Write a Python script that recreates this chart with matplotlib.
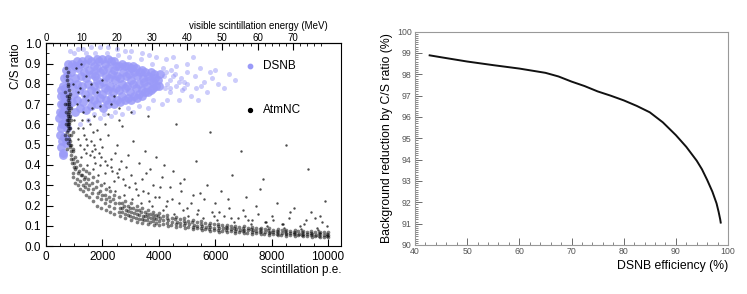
import numpy as np
import matplotlib
matplotlib.use("Agg")
import matplotlib.pyplot as plt
from matplotlib.ticker import MultipleLocator, FixedLocator, FormatStrFormatter

plt.rcParams['font.family'] = ['Liberation Sans', 'DejaVu Sans']

# --- left panel: C/S ratio vs scintillation p.e. ---
dsnb_core = [
    (470, 0.63), (495, 0.55), (515, 0.70), (530, 0.49), (548, 0.74), (560, 0.60), (585, 0.46),
    (598, 0.79), (612, 0.66), (628, 0.54), (652, 0.83), (663, 0.71), (684, 0.61), (702, 0.87),
    (714, 0.76), (722, 0.51), (743, 0.58), (763, 0.90), (781, 0.69), (805, 0.81), (522, 0.58),
    (572, 0.65), (621, 0.74), (693, 0.53), (752, 0.64), (541, 0.77), (593, 0.70), (641, 0.60),
    (672, 0.78), (733, 0.84), (505, 0.66), (555, 0.52), (610, 0.45), (680, 0.68), (760, 0.72),
    (905, 0.71), (930, 0.79), (880, 0.86), (915, 0.90),
    (1010, 0.66), (985, 0.75), (1040, 0.83), (1020, 0.89),
    (1110, 0.72), (1085, 0.80), (1130, 0.88), (1095, 0.91),
    (1210, 0.68), (1185, 0.77), (1235, 0.84), (1220, 0.90),
    (1305, 0.71), (1280, 0.79), (1330, 0.86), (1290, 0.91),
    (1415, 0.67), (1390, 0.75), (1420, 0.83), (1380, 0.90),
    (1510, 0.73), (1485, 0.80), (1530, 0.87), (1505, 0.92),
    (1605, 0.69), (1580, 0.77), (1625, 0.85), (1590, 0.91),
    (1710, 0.72), (1685, 0.79), (1730, 0.84), (1695, 0.89),
    (1805, 0.70), (1780, 0.76), (1820, 0.82), (1790, 0.88), (1815, 0.92),
    (1910, 0.73), (1885, 0.80), (1925, 0.86), (1895, 0.91),
    (2005, 0.68), (1980, 0.75), (2030, 0.81), (2010, 0.87), (1990, 0.92),
    (2110, 0.72), (2085, 0.78), (2130, 0.84), (2095, 0.90),
    (2210, 0.70), (2185, 0.77), (2230, 0.83), (2200, 0.88), (2215, 0.92),
    (2305, 0.73), (2280, 0.79), (2325, 0.85), (2295, 0.91),
    (2410, 0.70), (2385, 0.76), (2430, 0.82), (2400, 0.87), (2420, 0.91),
    (2505, 0.72), (2480, 0.78), (2525, 0.84), (2495, 0.89),
    (2610, 0.71), (2585, 0.77), (2630, 0.83), (2600, 0.89),
    (2705, 0.74), (2680, 0.80), (2725, 0.86), (2695, 0.90),
    (2810, 0.72), (2785, 0.78), (2830, 0.84), (2800, 0.89),
    (2905, 0.73), (2880, 0.79), (2925, 0.85), (2895, 0.89),
    (3010, 0.72), (2985, 0.76), (3030, 0.82), (3000, 0.88),
    (3105, 0.74), (3080, 0.80), (3125, 0.86), (3095, 0.89),
    (3210, 0.73), (3185, 0.78), (3230, 0.84), (3200, 0.88),
    (3305, 0.75), (3280, 0.80), (3325, 0.86),
    (3410, 0.74), (3385, 0.77), (3430, 0.83), (3400, 0.87),
    (3505, 0.76), (3480, 0.81), (3525, 0.86),
    (3610, 0.76), (3585, 0.79), (3630, 0.84),
    (3705, 0.77), (3680, 0.82), (3725, 0.86),
    (3810, 0.78), (3785, 0.81), (3830, 0.85),
    (3905, 0.79), (3880, 0.83),
    (4010, 0.79), (3985, 0.82), (4030, 0.85),
]

# lighter outer part of the blue cloud
dsnb_outer = [
    (4210, 0.78), (4180, 0.84), (4405, 0.76), (4380, 0.82), (4425, 0.87), (4610, 0.79),
    (4580, 0.85), (4805, 0.77), (4780, 0.83), (5010, 0.80), (4985, 0.86), (5310, 0.78),
    (5280, 0.84), (5605, 0.81), (5900, 0.83), (6100, 0.80), (5450, 0.88), (5150, 0.74),
    (4700, 0.72), (4250, 0.92), (3650, 0.94), (3000, 0.96), (2500, 0.97), (1900, 0.98),
    (1300, 0.97), (1000, 0.95), (6500, 0.85),
    (5700, 0.76), (6000, 0.87), (5400, 0.72), (5000, 0.90), (4500, 0.93), (4100, 0.70),
    (3900, 0.93), (3400, 0.95), (2800, 0.96), (2200, 0.98), (1600, 0.98), (1150, 0.97),
    (850, 0.96), (3600, 0.68), (3100, 0.66), (2700, 0.65), (2300, 0.64), (1900, 0.63),
    (1500, 0.62), (1200, 0.60), (6300, 0.78), (6700, 0.82), (5200, 0.93), (4300, 0.72),
    (4900, 0.81), (4600, 0.89), (5500, 0.79), (5800, 0.86), (4150, 0.88), (3750, 0.90),
    (3350, 0.92), (2950, 0.93), (2550, 0.94), (2150, 0.95), (1750, 0.95), (1400, 0.95),
    (3800, 0.72), (3300, 0.69), (2900, 0.68), (2450, 0.66), (2050, 0.65), (1700, 0.65),
    (4300, 0.80), (4500, 0.84), (4700, 0.81), (4400, 0.78), (4250, 0.86), (4900, 0.78),
]

atm_streak = [
    (720, 0.88), (760, 0.84), (790, 0.80), (810, 0.77), (830, 0.74), (780, 0.72), (800, 0.70),
    (770, 0.68), (820, 0.66), (850, 0.64), (740, 0.62), (790, 0.60), (810, 0.58), (760, 0.56),
    (830, 0.55), (800, 0.53), (780, 0.51), (840, 0.49), (700, 0.66), (870, 0.47), (900, 0.45),
    (750, 0.74), (810, 0.63), (790, 0.65), (860, 0.58), (820, 0.71), (770, 0.57), (880, 0.43),
    (730, 0.70), (800, 0.61), (690, 0.76), (920, 0.41), (850, 0.52), (780, 0.79), (810, 0.67),
    (795, 0.62), (805, 0.69), (775, 0.59), (825, 0.60), (815, 0.73), (765, 0.64), (835, 0.50),
    (745, 0.82), (870, 0.55), (890, 0.50), (785, 0.86), (710, 0.60), (760, 0.48), (720, 0.53),
    (880, 0.62), (900, 0.68), (940, 0.56), (680, 0.55), (660, 0.70), (950, 0.48), (860, 0.75),
]

atm_band = [
    (960, 0.47), (940, 0.43), (975, 0.39), (950, 0.36),
    (1010, 0.44), (985, 0.41), (1040, 0.38), (970, 0.34), (1025, 0.31),
    (1110, 0.42), (1080, 0.39), (1135, 0.36), (1095, 0.33), (1120, 0.30),
    (1205, 0.40), (1180, 0.37), (1230, 0.35), (1195, 0.32), (1215, 0.28),
    (1310, 0.38), (1285, 0.35), (1330, 0.33), (1295, 0.30), (1320, 0.27),
    (1405, 0.37), (1380, 0.34), (1425, 0.31), (1390, 0.29), (1415, 0.25),
    (1510, 0.36), (1485, 0.33), (1530, 0.30), (1495, 0.28), (1520, 0.24),
    (1655, 0.34), (1630, 0.31), (1675, 0.28), (1640, 0.26), (1665, 0.22),
    (1810, 0.32), (1780, 0.29), (1830, 0.26), (1795, 0.24), (1815, 0.20),
    (1955, 0.30), (1930, 0.27), (1975, 0.25), (1940, 0.23), (1965, 0.19),
    (2110, 0.28), (2080, 0.25), (2130, 0.23), (2095, 0.21), (2115, 0.18),
    (2255, 0.27), (2230, 0.24), (2275, 0.22), (2240, 0.20), (2265, 0.17),
    (2410, 0.25), (2380, 0.23), (2430, 0.21), (2395, 0.19), (2415, 0.16),
    (2605, 0.24), (2580, 0.21), (2625, 0.19), (2590, 0.17), (2615, 0.15),
    (2810, 0.22), (2780, 0.20), (2830, 0.18), (2795, 0.16), (2815, 0.14),
    (3005, 0.21), (2980, 0.19), (3025, 0.17), (2990, 0.15), (3015, 0.13),
    (3210, 0.20), (3180, 0.18), (3230, 0.16), (3195, 0.14), (3215, 0.12),
    (3405, 0.19), (3380, 0.17), (3425, 0.15), (3390, 0.135), (3415, 0.115),
    (3610, 0.18), (3580, 0.16), (3630, 0.145), (3595, 0.13), (3615, 0.11),
    (3805, 0.17), (3780, 0.155), (3825, 0.14), (3790, 0.125), (3815, 0.105),
    (4010, 0.165), (3980, 0.15), (4030, 0.138), (3995, 0.125), (4015, 0.105),
    (4305, 0.155), (4280, 0.14), (4325, 0.128), (4290, 0.115), (4315, 0.098),
    (4610, 0.145), (4580, 0.132), (4630, 0.12), (4595, 0.108), (4615, 0.092),
    (4905, 0.138), (4880, 0.125), (4925, 0.113), (4890, 0.102), (4915, 0.087),
    (5210, 0.13), (5180, 0.117), (5230, 0.106), (5195, 0.096), (5215, 0.082),
    (5505, 0.122), (5480, 0.11), (5525, 0.10), (5490, 0.09), (5515, 0.078),
    (5810, 0.116), (5780, 0.105), (5830, 0.095), (5795, 0.086), (5815, 0.074),
    (6105, 0.11), (6080, 0.10), (6125, 0.09), (6090, 0.081), (6115, 0.07),
    (6410, 0.105), (6380, 0.095), (6430, 0.087), (6395, 0.078), (6415, 0.068),
    (6705, 0.10), (6680, 0.09), (6725, 0.083), (6690, 0.075), (6715, 0.066),
    (7010, 0.097), (6980, 0.088), (7030, 0.08), (6995, 0.072), (7015, 0.063),
    (7305, 0.093), (7280, 0.085), (7325, 0.077), (7290, 0.07), (7315, 0.06),
    (7610, 0.09), (7580, 0.082), (7630, 0.074), (7595, 0.067), (7615, 0.058),
    (7905, 0.087), (7880, 0.079), (7925, 0.071), (7890, 0.064), (7915, 0.056),
    (8210, 0.084), (8180, 0.076), (8230, 0.069), (8195, 0.062), (8215, 0.054),
    (8505, 0.08), (8480, 0.073), (8525, 0.066), (8490, 0.06), (8515, 0.052),
    (8810, 0.078), (8780, 0.07), (8830, 0.064), (8795, 0.058), (8815, 0.05),
    (9105, 0.075), (9080, 0.068), (9125, 0.062), (9090, 0.056), (9115, 0.048),
    (9410, 0.072), (9380, 0.066), (9430, 0.06), (9395, 0.054), (9415, 0.047),
    (9705, 0.07), (9680, 0.064), (9725, 0.058), (9690, 0.052), (9715, 0.045),
    (9990, 0.068), (9960, 0.062), (9995, 0.056), (9970, 0.05), (9985, 0.044),
    # in-between columns
    (2700, 0.21), (2710, 0.19), (2690, 0.17),
    (2900, 0.20), (2910, 0.175), (2890, 0.155),
    (3100, 0.19), (3110, 0.165), (3090, 0.145),
    (3300, 0.18), (3310, 0.155), (3290, 0.135),
    (3500, 0.17), (3510, 0.148), (3490, 0.128),
    (3700, 0.16), (3710, 0.14), (3690, 0.12),
    (3900, 0.155), (3910, 0.135), (3890, 0.115),
    (4150, 0.148), (4160, 0.128), (4140, 0.11),
    (4450, 0.14), (4460, 0.12), (4440, 0.104),
    (4750, 0.132), (4760, 0.113), (4740, 0.098),
    (5050, 0.125), (5060, 0.107), (5040, 0.092),
    (5350, 0.118), (5360, 0.101), (5340, 0.088),
    (5650, 0.112), (5660, 0.096), (5640, 0.083),
    (5950, 0.107), (5960, 0.091), (5940, 0.079),
    (6250, 0.102), (6260, 0.087), (6240, 0.075),
    (6550, 0.098), (6560, 0.083), (6540, 0.072),
    (6850, 0.094), (6860, 0.08), (6840, 0.069),
    (7150, 0.09), (7160, 0.077), (7140, 0.066),
    (7450, 0.087), (7460, 0.074), (7440, 0.064),
    (7750, 0.084), (7760, 0.071), (7740, 0.061),
    (8050, 0.081), (8060, 0.068), (8040, 0.059),
    (8350, 0.078), (8360, 0.066), (8340, 0.057),
    (8650, 0.076), (8660, 0.063), (8640, 0.055),
    (8950, 0.073), (8960, 0.061), (8940, 0.053),
    (9250, 0.071), (9260, 0.059), (9240, 0.051),
    (9550, 0.069), (9560, 0.057), (9540, 0.049),
    (9850, 0.067), (9860, 0.055), (9840, 0.047),
]

atm_halo = [
    (1200, 0.50), (1300, 0.58), (1400, 0.46), (1500, 0.62), (1600, 0.52), (1700, 0.44),
    (1800, 0.57), (1900, 0.40), (2000, 0.49), (2100, 0.36), (2200, 0.55), (2300, 0.43),
    (2400, 0.32), (2500, 0.50), (2600, 0.38), (2700, 0.59), (2800, 0.30), (2900, 0.45),
    (3000, 0.35), (3100, 0.52), (3200, 0.28), (3300, 0.41), (3400, 0.33), (3500, 0.47),
    (3600, 0.26), (3700, 0.38), (3800, 0.30), (3900, 0.44), (4000, 0.24), (4100, 0.34),
    (4200, 0.40), (4300, 0.22), (4400, 0.29), (4500, 0.37), (4700, 0.21), (4800, 0.27),
    (4900, 0.33), (5000, 0.19), (5200, 0.25), (5300, 0.42), (5400, 0.18), (5600, 0.23),
    (5700, 0.30), (5900, 0.17), (6000, 0.21), (6200, 0.27), (6300, 0.15), (6500, 0.19),
    (6600, 0.35), (6800, 0.14), (7000, 0.18), (7100, 0.24), (7300, 0.13), (7500, 0.16),
    (7600, 0.28), (7800, 0.12), (8000, 0.15), (8200, 0.21), (8400, 0.11), (8600, 0.14),
    (8800, 0.19), (9000, 0.10), (9200, 0.13), (9400, 0.17), (9600, 0.09), (9800, 0.12),
    (9900, 0.22), (9700, 0.15), (8500, 0.50), (6900, 0.47), (9300, 0.38), (7700, 0.33),
    (5800, 0.56), (4600, 0.60), (3600, 0.64), (3000, 0.66), (2600, 0.68),
    (1250, 0.44), (1450, 0.40), (1650, 0.38), (1850, 0.35), (2050, 0.31), (2250, 0.29),
    (2450, 0.27), (2750, 0.25), (3050, 0.23), (3350, 0.21), (3750, 0.20), (4150, 0.18),
    (4550, 0.16), (5050, 0.15), (5550, 0.14), (6050, 0.13), (6650, 0.12), (7250, 0.11),
    (7850, 0.10), (8450, 0.09), (9050, 0.085), (9650, 0.08),
    (1350, 0.48), (1550, 0.45), (1750, 0.41), (1950, 0.44), (2150, 0.40), (2350, 0.37),
    (2550, 0.34), (2650, 0.42), (2850, 0.39), (3150, 0.31), (3450, 0.27), (3550, 0.36),
    (3850, 0.24), (4050, 0.29), (4450, 0.23), (4750, 0.31), (5150, 0.21), (5450, 0.26),
    (6150, 0.17), (6450, 0.23), (7050, 0.15), (7450, 0.20), (8050, 0.13), (8650, 0.17),
    (9150, 0.11), (9550, 0.14), (9950, 0.10), (1150, 0.53), (1700, 0.50), (2450, 0.46),
    (1420, 0.53), (1620, 0.47), (1880, 0.46), (2080, 0.42), (2320, 0.39), (2520, 0.36),
    (2720, 0.33), (2950, 0.29), (3250, 0.25), (3650, 0.22), (4250, 0.20), (4850, 0.18),
    (5350, 0.16), (5950, 0.15), (6550, 0.14), (7150, 0.13), (7750, 0.12), (8350, 0.11),
]

atm_in_dsnb = [
    (1000, 0.62), (1100, 0.70), (1200, 0.78), (1300, 0.66), (1400, 0.84), (1500, 0.72),
    (1600, 0.80), (1700, 0.64), (1800, 0.76), (1900, 0.69), (2000, 0.82), (2200, 0.65),
    (2400, 0.74), (1150, 0.58), (1350, 0.55), (1550, 0.60), (950, 0.80), (1050, 0.88),
    (1250, 0.90), (2100, 0.60), (2600, 0.62), (2300, 0.70), (1450, 0.50), (1650, 0.56),
    (1750, 0.48), (1900, 0.53), (1120, 0.76), (1330, 0.74), (1630, 0.68), (1270, 0.62),
]

# --- right panel: background reduction vs DSNB efficiency ---
dsnb_eff = [42.8, 45, 50, 55, 60, 65, 67.5, 70, 72.5, 75, 77.5, 80, 82.5, 85, 87.5,
            90, 92, 94, 95, 96, 97, 97.8, 98.2, 98.5, 98.6]
bkg_reduction = [98.89, 98.8, 98.6, 98.43, 98.27, 98.07, 97.9, 97.66, 97.45, 97.2, 97.0,
                 96.78, 96.52, 96.22, 95.75, 95.15, 94.6, 93.95, 93.55, 93.05, 92.5,
                 91.95, 91.55, 91.2, 91.05]

pe_per_mev = 125.0
blue = '#9a9af8'

fig = plt.figure(figsize=(7.47, 2.94), dpi=100)
ax1 = fig.add_axes([0.0616, 0.163, 0.395, 0.690])
ax2 = fig.add_axes([0.5556, 0.1667, 0.419, 0.7256])

outer = np.array(dsnb_outer)
ax1.scatter(outer[:, 0], outer[:, 1], s=13, color=blue, alpha=0.5, linewidths=0)
core = np.array(dsnb_core)
ax1.scatter(core[:, 0], core[:, 1], s=40, color=blue, alpha=0.85, linewidths=0)

dense = np.array(atm_streak + atm_band)
ax1.scatter(dense[:, 0], dense[:, 1], s=7, color='black', alpha=0.5, linewidths=0)
sparse = np.array(atm_halo + atm_in_dsnb)
ax1.scatter(sparse[:, 0], sparse[:, 1], s=3, color='black', alpha=0.7, linewidths=0)

ax1.set_xlim(0, 10460)
ax1.set_ylim(0, 1.0)
ax1.xaxis.set_major_locator(MultipleLocator(2000))
ax1.xaxis.set_minor_locator(MultipleLocator(500))
ax1.yaxis.set_major_locator(MultipleLocator(0.1))
ax1.yaxis.set_minor_locator(MultipleLocator(0.05))
ax1.yaxis.set_major_formatter(FormatStrFormatter('%.1f'))
ax1.tick_params(which='both', direction='in', labelsize=8.5, top=False, right=False)
ax1.tick_params(which='major', length=5)
ax1.tick_params(which='minor', length=2.5)
for s in ax1.spines.values():
    s.set_linewidth(0.8)

top = ax1.secondary_xaxis('top', functions=(lambda x: x / pe_per_mev, lambda e: e * pe_per_mev))
top.xaxis.set_major_locator(FixedLocator([0, 10, 20, 30, 40, 50, 60, 70]))
top.xaxis.set_minor_locator(FixedLocator(list(range(0, 80, 2))))
top.tick_params(which='both', direction='in', labelsize=7, pad=0.5)
top.tick_params(which='major', length=5)
top.tick_params(which='minor', length=2.5)

ax1.text(0.955, 1.085, 'visible scintillation energy (MeV)', transform=ax1.transAxes,
         ha='right', va='center', fontsize=7)
ax1.set_xlabel('scintillation p.e.', fontsize=8.5, loc='right', labelpad=1)
ax1.set_ylabel('C/S ratio', fontsize=8.5, loc='top', labelpad=2)

# legend
ax1.scatter([0.69], [0.89], s=10, color=blue, transform=ax1.transAxes, clip_on=False)
ax1.text(0.735, 0.89, 'DSNB', transform=ax1.transAxes, va='center', fontsize=8.5)
ax1.scatter([0.69], [0.67], s=8, color='black', transform=ax1.transAxes, clip_on=False)
ax1.text(0.735, 0.67, 'AtmNC', transform=ax1.transAxes, va='center', fontsize=8.5)

# right panel
ax2.plot(dsnb_eff, bkg_reduction, color='#111111', linewidth=1.4)
ax2.set_xlim(40, 100)
ax2.set_ylim(90, 100)
ax2.xaxis.set_major_locator(MultipleLocator(10))
ax2.xaxis.set_minor_locator(MultipleLocator(2))
ax2.yaxis.set_major_locator(MultipleLocator(1))
ax2.yaxis.set_minor_locator(MultipleLocator(0.1))
ax2.tick_params(which='both', direction='in', labelsize=6.3, colors='#555555',
                top=False, right=False)
ax2.tick_params(axis='x', pad=1.5)
ax2.tick_params(axis='y', pad=2.5)
ax2.tick_params(which='major', length=5, width=0.6)
ax2.tick_params(which='minor', length=2.5, width=0.5)
for s in ax2.spines.values():
    s.set_color('#999999')
    s.set_linewidth(0.8)
ax2.set_xlabel('DSNB efficiency (%)', fontsize=8.8, loc='right', labelpad=3)
ax2.set_ylabel('Background reduction by C/S ratio (%)', fontsize=8.8, labelpad=3)

fig.savefig('out.png', dpi=100)
